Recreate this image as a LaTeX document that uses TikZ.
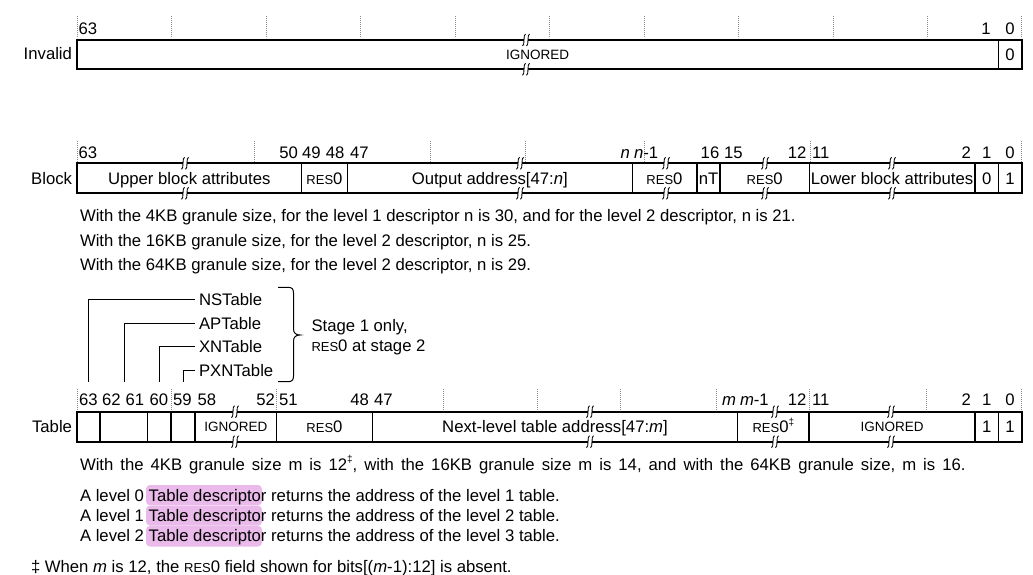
\documentclass[tikz,border=0pt]{standalone}
\usepackage{fontspec}
\setmainfont{Liberation Sans}
\definecolor{hlpink}{RGB}{234,186,234}
\newcommand\fs{\fontsize{16.7}{19}\selectfont}
\newcommand\fsm{\fontsize{13.5}{15}\selectfont}
\newcommand\smc[1]{{\fontsize{13}{13}\selectfont #1}}
\newcommand\rzero{\smc{RES}0}
\newcommand\ddg{\raisebox{0.45em}{\fontsize{10}{10}\selectfont ‡}}
\newcommand\brkmark[2]{%
  \fill[white] (#1-2.2,#2-1.6) rectangle (#1+2.2,#2+1.6);
  \draw[brk] (#1-0.5,#2-6) .. controls (#1-3,#2-6) and (#1-1,#2+6) .. (#1-3.5,#2+6);
  \draw[brk] (#1+3.5,#2-6) .. controls (#1+1,#2-6) and (#1+3,#2+6) .. (#1+0.5,#2+6);
}
\begin{document}
\begin{tikzpicture}[x=1pt,y=-1pt,
  txt/.style={font=\fs, text height=12pt, text depth=0pt, inner sep=0pt, outer sep=0pt},
  sml/.style={font=\fsm, text height=9.7pt, text depth=0pt, inner sep=0pt, outer sep=0pt},
  outer/.style={line width=1.7pt},
  inner/.style={line width=1.3pt},
  guide/.style={draw=black!45, line width=0.6pt, dash pattern=on 0.7pt off 1.3pt},
  leader/.style={line width=1pt},
  brk/.style={line width=0.9pt},
  hl/.style={fill=hlpink, rounded corners=4pt}]
\useasboundingbox (0,0) rectangle (1033,575);

% ---------- guides ----------
\foreach \x in {77,171.5,266,360.5,455,549.5,644,738.5,833,927.5,1021.7}
  \draw[guide] (\x,16) -- (\x,38);
\foreach \x in {77,254,430.7,525.7,644,810,1021.7}
  \draw[guide] (\x,141) -- (\x,162);
\foreach \x in {77,171,276.7,443.3,537,620,716,809,926.7,1021.7}
  \draw[guide] (\x,389) -- (\x,410);

% ---------- Invalid ----------
\node[txt, anchor=east] (lInv) at (72,54) {Invalid};
\node[txt, anchor=west] (i63) at (78.5,28.3) {63};
\node[txt] (i1) at (986,28.3) {1};
\node[txt] (i0) at (1010,28.3) {0};
\draw[outer] (77,40) rectangle (1021.7,69.3);
\draw[inner] (998.3,40) -- (998.3,69.3);
\node[sml] (iIgn) at (537.5,54.7) {IGNORED};
\node[txt] (iZero) at (1010,54.7) {0};
\brkmark{526}{40}
\brkmark{526}{69.3}

% ---------- Block ----------
\node[txt, anchor=east] (lBlk) at (72,178) {Block};
\node[txt, anchor=west] (b63) at (78.5,152) {63};
\node[txt, anchor=east] (b50) at (298,152) {50};
\node[txt, anchor=west] (b49) at (302,152) {49};
\node[txt, anchor=east] (b48) at (344.5,152) {48};
\node[txt, anchor=west] (b47) at (350,152) {47};
\node[txt, anchor=east] (bn) at (630,152) {\textit{n}};
\node[txt, anchor=west] (bn1) at (634,152) {\textit{n}-1};
\node[txt] (b16) at (710,152) {16};
\node[txt, anchor=west] (b15) at (724,152) {15};
\node[txt, anchor=east] (b12) at (806.5,152) {12};
\node[txt, anchor=west] (b11) at (812,152) {11};
\node[txt, anchor=east] (b2) at (971,152) {2};
\node[txt] (b1) at (986.7,152) {1};
\node[txt] (b0) at (1010,152) {0};
\draw[outer] (77,163.3) rectangle (1021.7,193.3);
\foreach \x in {301.7,347.3,632.3,697,720,809.3,975,998.3}
  \draw[inner] (\x,163.3) -- (\x,193.3);
\node[txt] (bUp) at (189.3,178.3) {Upper block attributes};
\node[txt] (bR1) at (324.5,178.3) {\rzero};
\node[txt] (bOA) at (489.8,178.3) {Output address[47:\textit{n}]};
\node[txt] (bR2) at (664.5,178.3) {\rzero};
\node[txt] (bnT) at (708.5,178.3) {nT};
\node[txt] (bR3) at (764.7,178.3) {\rzero};
\node[txt] (bLo) at (892,178.3) {Lower block attributes};
\node[txt] (bZ) at (986.7,178.3) {0};
\node[txt] (bO) at (1010,178.3) {1};
\foreach \x in {185,520,666,765,892} {
  \brkmark{\x}{163.3}
  \brkmark{\x}{193.3}
}
\node[txt, anchor=west] (bt1) at (80,215) {With the 4KB granule size, for the level 1 descriptor n is 30, and for the level 2 descriptor, n is 21.};
\node[txt, anchor=west] (bt2) at (80,240) {With the 16KB granule size, for the level 2 descriptor, n is 25.};
\node[txt, anchor=west] (bt3) at (80,264.5) {With the 64KB granule size, for the level 2 descriptor, n is 29.};

% ---------- Table attribute labels ----------
\node[txt, anchor=west] (ns) at (199,299.5) {NSTable};
\node[txt, anchor=west] (ap) at (199,323.5) {APTable};
\node[txt, anchor=west] (xn) at (199,346.8) {XNTable};
\node[txt, anchor=west] (pxn) at (199,370.5) {PXNTable};
\coordinate (c63) at (88.3,381.7);
\coordinate (c62) at (124,381.7);
\coordinate (c60) at (159.3,381.7);
\coordinate (c59) at (183,381.7);
\draw[leader] ([xshift=-4pt]ns.west) -| (c63);
\draw[leader] ([xshift=-4pt]ap.west) -| (c62);
\draw[leader] ([xshift=-4pt]xn.west) -| (c60);
\draw[leader] ([xshift=-4pt]pxn.west) -| (c59);
\coordinate (brT) at (278,287.3);
\coordinate (brB) at (278,381.7);
\draw[leader] (brT) -- (288,287.3) .. controls (292,287.3) and (293.5,289) .. (293.5,293)
  -- (293.5,329) .. controls (293.5,333) and (296,335) .. (300,335)
  .. controls (296,335) and (293.5,337) .. (293.5,341)
  -- (293.5,376) .. controls (293.5,380) and (292,381.7) .. (288,381.7) -- (brB);
\node[txt, anchor=west] (st1) at (311.5,325) {Stage 1 only,};
\node[txt, anchor=west] (st2) at (311.5,345.3) {\rzero{} at stage 2};

% ---------- Table ----------
\node[txt, anchor=east] (lTbl) at (72,426.7) {Table};
\node[txt] (t63) at (88.5,399.7) {63};
\node[txt] (t62) at (111.5,399.7) {62};
\node[txt] (t61) at (135,399.7) {61};
\node[txt] (t60) at (159,399.7) {60};
\node[txt] (t59) at (182.5,399.7) {59};
\node[txt, anchor=west] (t58) at (197.5,399.7) {58};
\node[txt, anchor=east] (t52) at (275,399.7) {52};
\node[txt, anchor=west] (t51) at (279,399.7) {51};
\node[txt, anchor=east] (t48) at (369,399.7) {48};
\node[txt, anchor=west] (t47) at (374,399.7) {47};
\node[txt, anchor=east] (tm) at (736,399.7) {\textit{m}};
\node[txt, anchor=west] (tm1) at (740,399.7) {\textit{m}-1};
\node[txt, anchor=east] (t12) at (806.5,399.7) {12};
\node[txt, anchor=west] (t11) at (812,399.7) {11};
\node[txt, anchor=east] (t2) at (971,399.7) {2};
\node[txt] (t1) at (986.7,399.7) {1};
\node[txt] (t0) at (1010,399.7) {0};
\draw[outer] (77,411.7) rectangle (1021.7,441.7);
\foreach \x in {100,147.7,171,195,276.7,372.3,737.7,809,975,998.3}
  \draw[inner] (\x,411.7) -- (\x,441.7);
\node[sml] (tIg1) at (235.8,426.7) {IGNORED};
\node[txt] (tR1) at (324.5,426.7) {\rzero};
\node[txt] (tNx) at (555,426.7) {Next-level table address[47:\textit{m}]};
\node[txt] (tR2) at (773.3,426.7) {\rzero\ddg};
\node[sml] (tIg2) at (892,426.7) {IGNORED};
\node[txt] (tA) at (986.7,426.7) {1};
\node[txt] (tB) at (1010,426.7) {1};
\foreach \x in {235,590,775,891} {
  \brkmark{\x}{411.7}
  \brkmark{\x}{441.7}
}

% ---------- Notes ----------
\node[txt, anchor=west] (tt1) at (80,464) {\spaceskip=7pt\relax With the 4KB granule size m is 12\ddg, with the 16KB granule size m is 14, and with the 64KB granule size, m is 16.};
\fill[hl] (146,485) rectangle (262,505.3);
\fill[hl] (146,505.6) rectangle (262,525.6);
\fill[hl] (146,525.9) rectangle (262,546.5);
\node[txt, anchor=west] (lv0) at (80,495) {A level 0 Table descriptor returns the address of the level 1 table.};
\node[txt, anchor=west] (lv1) at (80,515) {A level 1 Table descriptor returns the address of the level 2 table.};
\node[txt, anchor=west] (lv2) at (80,535.3) {A level 2 Table descriptor returns the address of the level 3 table.};
\node[txt, anchor=west] (fn) at (31,566.5) {‡ When \textit{m} is 12, the \rzero{} field shown for bits[(\textit{m}-1):12] is absent.};
\end{tikzpicture}
\end{document}
